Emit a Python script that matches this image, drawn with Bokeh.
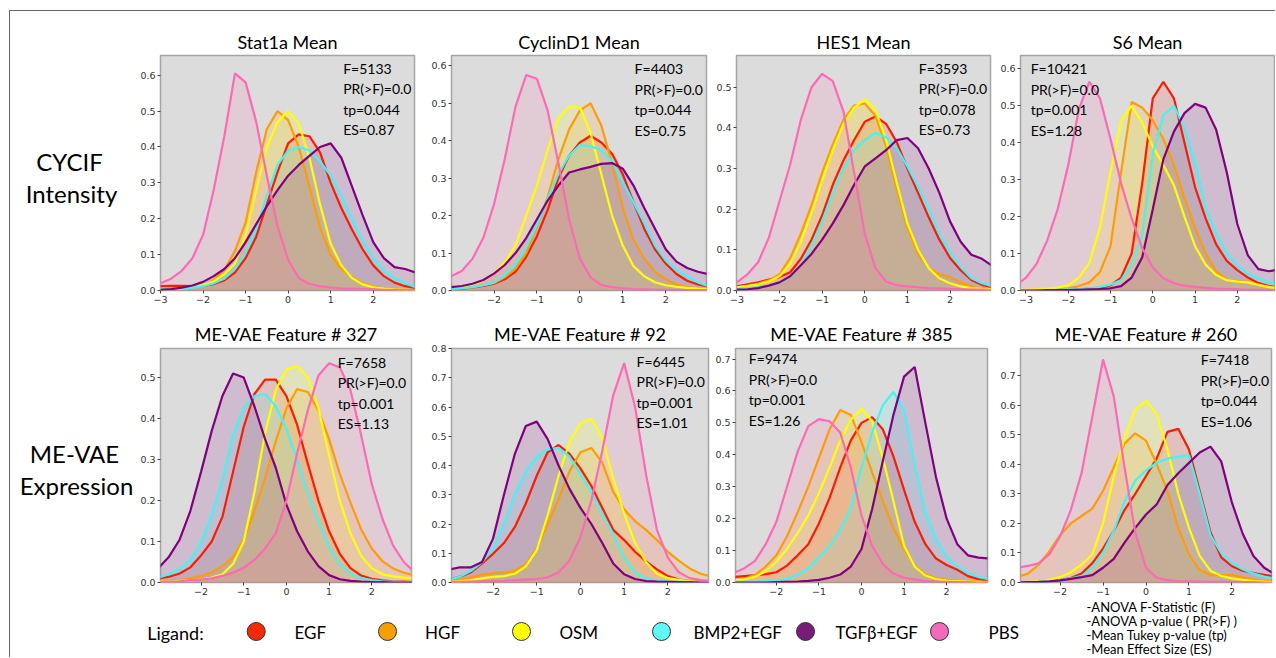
from bokeh.plotting import figure
from bokeh.layouts import row, column
from bokeh.models import Range1d, FixedTicker, Label, Spacer, PrintfTickFormatter
from bokeh.core.properties import value
from bokeh.embed import file_html
from bokeh.resources import INLINE

# ---------------- data ----------------
X = [-3.0, -2.75, -2.5, -2.25, -2.0, -1.75, -1.5, -1.25, -1.0, -0.75, -0.5, -0.25,
     0.0, 0.25, 0.5, 0.75, 1.0, 1.25, 1.5, 1.75, 2.0, 2.25, 2.5, 2.75, 3.0]
X_S6 = [-3.25, -3.0, -2.75, -2.5, -2.25, -2.0, -1.75, -1.5, -1.25, -1.0, -0.75, -0.5, -0.25,
        0.0, 0.25, 0.5, 0.75, 1.0, 1.25, 1.5, 1.75, 2.0, 2.25, 2.5, 2.75, 3.0]

LIGANDS = ["EGF", "HGF", "OSM", "BMP2+EGF", "TGFβ+EGF", "PBS"]
LINE_COLORS = ["#ff1a00", "#ff9d00", "#ffff00", "#3ff5f5", "#800080", "#ff69b4"]
MARKER_COLORS = ["#f52a00", "#f5a000", "#ffff00", "#5ff8f8", "#7a1a7a", "#f46ab8"]

# Stat1a Mean
stat1a_egf = [0.012,0.013,0.013,0.012,0.013,0.018,0.028,0.05,0.09,0.15,0.24,0.33,0.41,0.435,0.43,0.385,0.3,0.23,0.17,0.115,0.07,0.04,0.022,0.012,0.007]
stat1a_hgf = [0.004,0.005,0.007,0.009,0.013,0.029,0.058,0.11,0.19,0.33,0.45,0.5,0.475,0.4,0.29,0.175,0.1,0.06,0.037,0.02,0.011,0.006,0.003,0.002,0.001]
stat1a_osm = [0.003,0.004,0.006,0.009,0.015,0.025,0.045,0.075,0.155,0.28,0.4,0.47,0.5,0.465,0.37,0.24,0.13,0.07,0.035,0.017,0.009,0.005,0.003,0.002,0.001]
stat1a_bmp = [0.004,0.005,0.006,0.008,0.012,0.02,0.033,0.06,0.105,0.17,0.265,0.35,0.39,0.4,0.39,0.36,0.32,0.265,0.2,0.14,0.09,0.055,0.035,0.02,0.009]
stat1a_tgf = [0.002,0.004,0.008,0.014,0.024,0.04,0.06,0.09,0.135,0.185,0.235,0.28,0.32,0.35,0.375,0.4,0.41,0.37,0.29,0.21,0.135,0.09,0.065,0.06,0.05]
stat1a_pbs = [0.02,0.033,0.055,0.09,0.155,0.28,0.43,0.605,0.58,0.47,0.32,0.18,0.085,0.035,0.018,0.012,0.008,0.006,0.005,0.004,0.003,0.002,0.002,0.001,0.001]

# CyclinD1 Mean
cyc_egf = [0.004,0.005,0.008,0.012,0.018,0.03,0.05,0.09,0.145,0.215,0.3,0.36,0.395,0.413,0.395,0.365,0.31,0.235,0.165,0.11,0.072,0.044,0.026,0.016,0.01]
cyc_hgf = [0.004,0.006,0.009,0.014,0.02,0.035,0.058,0.1,0.17,0.25,0.35,0.43,0.48,0.5,0.44,0.34,0.22,0.135,0.085,0.05,0.03,0.016,0.009,0.005,0.003]
cyc_osm = [0.008,0.011,0.016,0.027,0.045,0.075,0.12,0.2,0.28,0.375,0.46,0.49,0.49,0.42,0.31,0.2,0.12,0.065,0.038,0.022,0.014,0.01,0.007,0.005,0.004]
cyc_bmp = [0.004,0.006,0.009,0.014,0.021,0.04,0.07,0.115,0.175,0.245,0.31,0.36,0.388,0.385,0.375,0.345,0.29,0.235,0.18,0.12,0.08,0.055,0.037,0.022,0.011]
cyc_tgf = [0.009,0.012,0.018,0.028,0.045,0.068,0.1,0.14,0.19,0.24,0.28,0.315,0.323,0.33,0.338,0.34,0.325,0.28,0.22,0.165,0.11,0.077,0.06,0.05,0.043]
cyc_pbs = [0.038,0.052,0.085,0.14,0.23,0.35,0.49,0.575,0.565,0.48,0.34,0.19,0.085,0.035,0.015,0.009,0.006,0.004,0.003,0.002,0.002,0.001,0.001,0.001,0.001]

# HES1 Mean
hes_egf = [0.01,0.015,0.02,0.027,0.033,0.045,0.078,0.125,0.185,0.26,0.32,0.37,0.415,0.428,0.41,0.365,0.3,0.24,0.18,0.125,0.08,0.05,0.026,0.014,0.008]
hes_hgf = [0.008,0.012,0.017,0.025,0.04,0.08,0.14,0.21,0.29,0.36,0.42,0.455,0.46,0.43,0.355,0.25,0.155,0.09,0.055,0.04,0.033,0.02,0.01,0.005,0.003]
hes_osm = [0.008,0.011,0.015,0.022,0.035,0.065,0.12,0.19,0.27,0.345,0.41,0.45,0.47,0.445,0.37,0.265,0.165,0.1,0.055,0.03,0.018,0.01,0.006,0.004,0.003]
hes_bmp = [0.004,0.006,0.008,0.012,0.019,0.033,0.062,0.11,0.17,0.24,0.3,0.345,0.37,0.388,0.377,0.35,0.305,0.255,0.2,0.14,0.095,0.058,0.03,0.018,0.01]
hes_tgf = [0.002,0.003,0.006,0.012,0.02,0.035,0.062,0.09,0.125,0.165,0.21,0.26,0.305,0.325,0.345,0.37,0.375,0.35,0.3,0.24,0.17,0.12,0.088,0.078,0.06]
hes_pbs = [0.02,0.04,0.07,0.13,0.22,0.31,0.42,0.5,0.533,0.515,0.44,0.29,0.14,0.055,0.022,0.013,0.01,0.008,0.006,0.005,0.004,0.003,0.002,0.002,0.001]

# S6 Mean (grid X_S6)
s6_egf = [0.0,0.0,0.0,0.001,0.001,0.002,0.003,0.005,0.008,0.014,0.035,0.1,0.29,0.52,0.565,0.52,0.4,0.28,0.195,0.125,0.08,0.055,0.035,0.02,0.012,0.007]
s6_hgf = [0.001,0.001,0.002,0.003,0.004,0.006,0.012,0.022,0.05,0.12,0.32,0.51,0.495,0.46,0.41,0.34,0.25,0.17,0.1,0.052,0.03,0.024,0.024,0.016,0.01,0.006]
s6_osm = [0.001,0.002,0.003,0.005,0.008,0.014,0.035,0.075,0.17,0.32,0.46,0.5,0.455,0.39,0.34,0.285,0.2,0.12,0.07,0.042,0.028,0.024,0.022,0.015,0.009,0.006]
s6_bmp = [0.0,0.0,0.001,0.001,0.002,0.003,0.004,0.006,0.01,0.016,0.028,0.07,0.15,0.37,0.475,0.5,0.44,0.345,0.225,0.155,0.1,0.068,0.045,0.032,0.022,0.015]
s6_tgf = [0.0,0.0,0.0,0.001,0.001,0.001,0.002,0.003,0.004,0.006,0.012,0.035,0.09,0.22,0.355,0.43,0.48,0.505,0.495,0.435,0.32,0.18,0.095,0.058,0.052,0.058]
s6_pbs = [0.012,0.035,0.072,0.135,0.22,0.34,0.49,0.565,0.52,0.41,0.29,0.195,0.115,0.062,0.033,0.02,0.013,0.01,0.007,0.005,0.004,0.003,0.002,0.002,0.001,0.001]

# ME-VAE Feature # 327
f327_egf = [0.01,0.014,0.022,0.037,0.066,0.1,0.16,0.27,0.38,0.46,0.495,0.495,0.455,0.385,0.29,0.2,0.125,0.07,0.035,0.017,0.009,0.005,0.003,0.002,0.001]
f327_hgf = [0.003,0.004,0.006,0.01,0.016,0.025,0.04,0.062,0.105,0.175,0.255,0.345,0.425,0.472,0.465,0.42,0.35,0.265,0.195,0.13,0.083,0.052,0.034,0.024,0.017]
f327_osm = [0.003,0.003,0.004,0.005,0.007,0.012,0.02,0.045,0.1,0.22,0.365,0.47,0.52,0.528,0.5,0.425,0.31,0.2,0.12,0.065,0.035,0.02,0.015,0.012,0.01]
f327_bmp = [0.012,0.02,0.033,0.055,0.098,0.165,0.25,0.36,0.425,0.455,0.46,0.43,0.375,0.3,0.22,0.15,0.087,0.045,0.022,0.011,0.006,0.003,0.002,0.001,0.001]
f327_tgf = [0.035,0.063,0.105,0.175,0.27,0.37,0.455,0.51,0.5,0.43,0.35,0.28,0.19,0.125,0.076,0.04,0.018,0.008,0.004,0.002,0.001,0.001,0.0,0.0,0.0]
f327_pbs = [0.002,0.002,0.003,0.005,0.007,0.01,0.016,0.024,0.036,0.055,0.083,0.12,0.2,0.315,0.42,0.505,0.535,0.525,0.47,0.36,0.24,0.155,0.09,0.05,0.025]

# ME-VAE Feature # 92
f92_egf = [0.01,0.02,0.035,0.065,0.098,0.135,0.19,0.27,0.365,0.445,0.47,0.44,0.39,0.33,0.255,0.18,0.145,0.105,0.072,0.045,0.022,0.01,0.005,0.003,0.002]
f92_hgf = [0.005,0.01,0.018,0.027,0.032,0.034,0.04,0.062,0.115,0.2,0.285,0.38,0.445,0.46,0.41,0.31,0.25,0.21,0.18,0.145,0.105,0.075,0.048,0.03,0.02]
f92_osm = [0.003,0.005,0.008,0.014,0.019,0.022,0.03,0.055,0.11,0.23,0.365,0.48,0.545,0.56,0.495,0.355,0.235,0.135,0.07,0.03,0.015,0.009,0.005,0.003,0.002]
f92_bmp = [0.01,0.02,0.04,0.07,0.115,0.2,0.3,0.38,0.43,0.455,0.46,0.43,0.37,0.31,0.235,0.165,0.085,0.035,0.014,0.006,0.003,0.002,0.001,0.0,0.0]
f92_tgf = [0.045,0.052,0.052,0.07,0.15,0.3,0.44,0.535,0.55,0.49,0.4,0.32,0.255,0.2,0.135,0.065,0.028,0.012,0.005,0.003,0.002,0.001,0.001,0.0,0.0]
f92_pbs = [0.002,0.002,0.003,0.004,0.005,0.006,0.008,0.01,0.012,0.018,0.035,0.075,0.155,0.28,0.45,0.64,0.75,0.6,0.37,0.18,0.085,0.035,0.015,0.008,0.005]

# ME-VAE Feature # 385
f385_egf = [0.017,0.02,0.023,0.026,0.032,0.053,0.085,0.12,0.185,0.265,0.36,0.445,0.5,0.518,0.48,0.395,0.29,0.19,0.12,0.075,0.055,0.04,0.02,0.01,0.005]
f385_hgf = [0.007,0.012,0.024,0.05,0.085,0.145,0.22,0.3,0.39,0.48,0.54,0.525,0.44,0.345,0.255,0.17,0.105,0.052,0.026,0.014,0.009,0.006,0.004,0.003,0.002]
f385_osm = [0.006,0.01,0.018,0.035,0.065,0.105,0.155,0.21,0.28,0.36,0.445,0.51,0.545,0.505,0.39,0.255,0.115,0.05,0.022,0.011,0.006,0.004,0.003,0.002,0.001]
f385_bmp = [0.002,0.002,0.003,0.004,0.005,0.012,0.025,0.045,0.08,0.115,0.165,0.235,0.36,0.47,0.555,0.597,0.54,0.37,0.22,0.135,0.08,0.05,0.03,0.018,0.01]
f385_tgf = [0.0,0.0,0.0,0.0,0.001,0.002,0.003,0.005,0.008,0.015,0.025,0.05,0.105,0.23,0.38,0.525,0.645,0.675,0.5,0.33,0.2,0.12,0.085,0.078,0.075]
f385_pbs = [0.03,0.045,0.068,0.12,0.19,0.3,0.41,0.49,0.512,0.505,0.47,0.36,0.21,0.115,0.058,0.028,0.015,0.009,0.005,0.003,0.002,0.001,0.001,0.0,0.0]

# ME-VAE Feature # 260
f260_egf = [0.0,0.001,0.002,0.004,0.008,0.015,0.03,0.065,0.115,0.175,0.245,0.3,0.36,0.42,0.51,0.52,0.45,0.31,0.17,0.085,0.055,0.04,0.032,0.026,0.02]
f260_hgf = [0.018,0.03,0.06,0.105,0.16,0.2,0.225,0.25,0.31,0.39,0.47,0.505,0.48,0.4,0.31,0.185,0.095,0.042,0.025,0.024,0.026,0.018,0.01,0.006,0.004]
f260_osm = [0.001,0.002,0.004,0.009,0.018,0.035,0.06,0.095,0.2,0.36,0.49,0.585,0.615,0.57,0.45,0.3,0.185,0.09,0.04,0.022,0.014,0.009,0.005,0.003,0.002]
f260_bmp = [0.0,0.001,0.002,0.004,0.008,0.014,0.022,0.05,0.1,0.175,0.275,0.345,0.38,0.405,0.42,0.425,0.43,0.3,0.16,0.1,0.065,0.045,0.03,0.02,0.013]
f260_tgf = [0.0,0.001,0.002,0.004,0.007,0.012,0.018,0.025,0.05,0.08,0.135,0.185,0.23,0.265,0.33,0.37,0.405,0.44,0.46,0.41,0.27,0.165,0.09,0.05,0.028]
f260_pbs = [0.05,0.056,0.065,0.095,0.155,0.245,0.37,0.56,0.755,0.63,0.39,0.17,0.05,0.016,0.008,0.005,0.004,0.003,0.002,0.002,0.001,0.001,0.001,0.0,0.0]

TITLES = ["Stat1a Mean", "CyclinD1 Mean", "HES1 Mean", "S6 Mean",
          "ME-VAE Feature # 327", "ME-VAE Feature # 92", "ME-VAE Feature # 385", "ME-VAE Feature # 260"]
STATS = [
    ["F=5133", "PR(>F)=0.0", "tp=0.044", "ES=0.87"],
    ["F=4403", "PR(>F)=0.0", "tp=0.044", "ES=0.75"],
    ["F=3593", "PR(>F)=0.0", "tp=0.078", "ES=0.73"],
    ["F=10421", "PR(>F)=0.0", "tp=0.001", "ES=1.28"],
    ["F=7658", "PR(>F)=0.0", "tp=0.001", "ES=1.13"],
    ["F=6445", "PR(>F)=0.0", "tp=0.001", "ES=1.01"],
    ["F=9474", "PR(>F)=0.0", "tp=0.001", "ES=1.26"],
    ["F=7418", "PR(>F)=0.0", "tp=0.044", "ES=1.06"],
]
ROW_LABELS = [["CYCIF", "Intensity"], ["ME-VAE", "Expression"]]
FOOTNOTE = ["-ANOVA F-Statistic (F)", "-ANOVA p-value ( PR(>F) )",
            "-Mean Tukey p-value (tp)", "-Mean Effect Size (ES)"]

Y6 = [0.0, 0.1, 0.2, 0.3, 0.4, 0.5, 0.6]
Y5 = [0.0, 0.1, 0.2, 0.3, 0.4, 0.5]
Y7 = [0.0, 0.1, 0.2, 0.3, 0.4, 0.5, 0.6, 0.7]
Y8 = [0.0, 0.1, 0.2, 0.3, 0.4, 0.5, 0.6, 0.7, 0.8]
XT3 = [-3, -2, -1, 0, 1, 2]
XT2 = [-2, -1, 0, 1, 2]

# row geometry (top border, frame height, bottom border, title standoff)
ROW1 = (44, 235, 22, 5)
ROW2 = (36, 234, 18, 8)

# panel layout: (x grid, series, x range, y range, y ticks, x ticks, stat x frac, stat top px,
#                frame w, border l, border r, row geometry)
PANELS = [
    (X, [stat1a_egf, stat1a_hgf, stat1a_osm, stat1a_bmp, stat1a_tgf, stat1a_pbs],
     (-3.0, 2.97), (0, 0.655), Y6, XT3, 0.719, 12.7, 254, 32, 10, ROW1),
    (X, [cyc_egf, cyc_hgf, cyc_osm, cyc_bmp, cyc_tgf, cyc_pbs],
     (-2.99, 2.95), (0, 0.627), Y6, XT2, 0.718, 13.3, 255, 27, 4, ROW1),
    (X, [hes_egf, hes_hgf, hes_osm, hes_bmp, hes_tgf, hes_pbs],
     (-3.01, 2.95), (0, 0.578), Y5, XT3, 0.718, 12.7, 254, 26, 5, ROW1),
    (X_S6, [s6_egf, s6_hgf, s6_osm, s6_bmp, s6_tgf, s6_pbs],
     (-3.13, 2.88), (0, 0.636), Y6, XT3, 0.04, 13.0, 254, 25, 1, ROW1),
    (X, [f327_egf, f327_hgf, f327_osm, f327_bmp, f327_tgf, f327_pbs],
     (-2.95, 2.93), (0, 0.571), Y5, XT2, 0.706, 13.7, 251, 26, 13, ROW2),
    (X, [f92_egf, f92_hgf, f92_osm, f92_bmp, f92_tgf, f92_pbs],
     (-2.95, 2.93), (0, 0.8), Y8, XT2, 0.72, 12.7, 257, 27, 2, ROW2),
    (X, [f385_egf, f385_hgf, f385_osm, f385_bmp, f385_tgf, f385_pbs],
     (-2.96, 2.96), (0, 0.733), Y7, XT2, 0.053, 10.3, 252, 25, 8, ROW2),
    (X, [f260_egf, f260_hgf, f260_osm, f260_bmp, f260_tgf, f260_pbs],
     (-2.92, 2.92), (0, 0.792), Y7, XT2, 0.718, 11.3, 251, 25, 4, ROW2),
]


def make_panel(title, spec, stats):
    (xs, series, xr, yr, yt, xt, sx, sy0, fw, bl, br, geo) = spec
    bt, fh, bb, ts = geo
    p = figure(frame_width=fw, frame_height=fh, min_border_left=bl, min_border_right=br,
               min_border_top=bt, min_border_bottom=bb,
               x_range=Range1d(*xr), y_range=Range1d(*yr),
               output_backend="svg", toolbar_location=None, title=title)
    p.background_fill_color = "#dcdcdc"
    p.border_fill_color = "white"
    p.outline_line_color = "#a5a5a5"
    p.outline_line_width = 1.5
    p.grid.visible = False
    p.title.align = "center"
    p.title.text_font = "Lato"
    p.title.text_font_size = "18px"
    p.title.text_font_style = "normal"
    p.title.text_color = "black"
    p.title.standoff = ts
    p.xaxis.ticker = FixedTicker(ticks=xt)
    p.xaxis.major_label_overrides = {t: ("\u2212" + str(-t)) if t < 0 else str(t) for t in xt}
    p.yaxis.ticker = FixedTicker(ticks=yt)
    p.yaxis.formatter = PrintfTickFormatter(format="%.1f")
    for ax in (p.xaxis[0], p.yaxis[0]):
        ax.axis_line_color = None
        ax.major_tick_line_color = "#444444"
        ax.major_tick_out = 3
        ax.major_tick_in = 0
        ax.minor_tick_line_color = None
        ax.major_label_text_font = "DejaVu Sans"
        ax.major_label_text_font_size = "9.5px"
        ax.major_label_text_color = "#333333"
        ax.major_label_standoff = 2
    for vals, c in zip(series, LINE_COLORS):
        p.varea(x=xs, y1=0, y2=vals, fill_color=c, fill_alpha=0.14)
    for vals, c in zip(series, LINE_COLORS):
        p.line(x=xs, y=vals, line_color=c, line_width=2.2)
    for i, t in enumerate(stats):
        y = yr[1] - (sy0 + i * 20.5) / fh * (yr[1] - yr[0])
        x = xr[0] + sx * (xr[1] - xr[0])
        p.add_layout(Label(x=x, y=y, text=t, text_font="Lato", text_font_size="14px",
                           text_baseline="middle", text_align="left", text_color="black"))
    return p


panels = [make_panel(TITLES[i], PANELS[i], STATS[i]) for i in range(8)]


def label_fig(x1, row_top, geo, lines, xs, ys):
    bt, fh, bb, _ = geo
    ftop = row_top + bt
    f = figure(frame_width=x1 - 10, frame_height=fh, min_border_left=0, min_border_right=0,
               min_border_top=bt, min_border_bottom=bb,
               x_range=Range1d(10, x1), y_range=Range1d(ftop + fh, ftop),
               x_axis_type=None, y_axis_type=None,
               output_backend="svg", toolbar_location=None)
    f.outline_line_color = None
    f.grid.visible = False
    f.text(x=xs, y=ys, text=lines, text_align="center", text_baseline="middle",
           text_font=value("Lato"), text_font_size=value("24px"), text_color="black")
    return f


lab1 = label_fig(128, 11, ROW1, ROW_LABELS[0], [69, 71], [161, 193])
lab2 = label_fig(134, 312, ROW2, ROW_LABELS[1], [74, 76], [453, 485])

leg = figure(frame_width=1265, frame_height=57, min_border=0,
             x_range=Range1d(10, 1275), y_range=Range1d(657, 600),
             x_axis_type=None, y_axis_type=None,
             output_backend="svg", toolbar_location=None)
leg.outline_line_color = None
leg.grid.visible = False
leg.text(x=[146.7], y=[632.5], text=["Ligand:"], text_align="left", text_baseline="middle",
         text_font=value("Lato"), text_font_size=value("18px"), text_color="black")
leg.scatter(x=[255.7, 387, 521, 661, 805, 939], y=[631] * 6, marker="circle", size=18,
            fill_color=MARKER_COLORS, line_color="#333333", line_width=1)
leg.text(x=[294, 424.5, 559, 693, 835, 988], y=[632] * 6, text=LIGANDS,
         text_align="left", text_baseline="middle",
         text_font=value("Lato"), text_font_size=value("17px"), text_color="black")
leg.text(x=[1086] * 4, y=[606, 620, 634, 648], text=FOOTNOTE,
         text_align="left", text_baseline="middle",
         text_font=value("Lato"), text_font_size=value("13px"), text_color="black")

content = column(row(lab1, *panels[:4]), row(lab2, *panels[4:]), leg)

outer = column(
    Spacer(width=1275, height=10),
    row(Spacer(width=9, height=1), Spacer(width=1266, height=1, styles={"background-color": "#666666"})),
    row(Spacer(width=9, height=646), Spacer(width=1, height=646, styles={"background-color": "#666666"}), content),
)

open("out.html", "w").write(file_html(outer, INLINE))
